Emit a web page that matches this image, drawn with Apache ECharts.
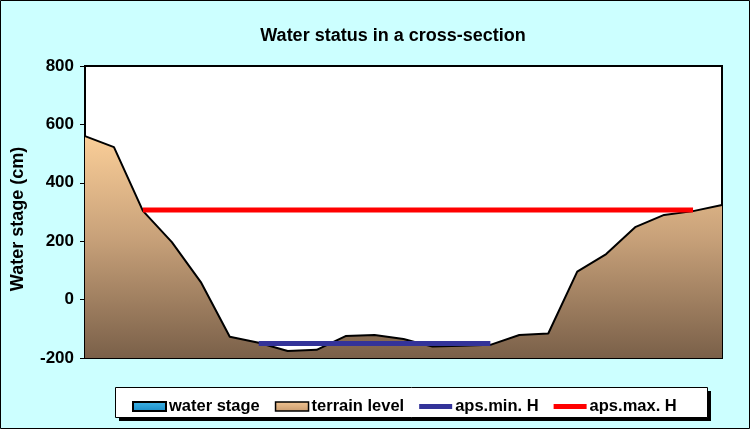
<!DOCTYPE html>
<html>
<head>
<meta charset="utf-8">
<script src="https://cdn.jsdelivr.net/npm/echarts@6/dist/echarts.min.js"></script>
<style>html,body{margin:0;padding:0;background:#CCFFFF;}#c{width:750px;height:429px;}</style>
</head>
<body>
<div id="c"></div>
<script>
var categories = ['1','2','3','4','5','6','7','8','9','10','11','12','13','14','15','16','17','18','19','20','21','22','23'];
var terrainLevel = [560, 522, 304, 197, 60, -127, -148, -176, -172, -125, -121, -135, -161, -158, -155, -121, -116, 96, 156, 248, 290, 303, 324];
var waterStage = [];
var apsMinH = [null, null, null, null, null, null, -150, -150, -150, -150, -150, -150, -150, -150, -150, null, null, null, null, null, null, null, null];
var apsMaxH = [null, null, 307, 307, 307, 307, 307, 307, 307, 307, 307, 307, 307, 307, 307, 307, 307, 307, 307, 307, 307, 307, null];
var yTicks = {min: -200, max: 800, interval: 200};
var yTitle = 'Water stage (cm)';

var font = 'Liberation Sans, Arial, sans-serif';
var lineIcon = 'path://M0,0h34v5h-34z';
var chart = echarts.init(document.getElementById('c'), null, {renderer: 'canvas'});
chart.setOption({
  backgroundColor: '#CCFFFF',
  animation: false,
  title: {
    text: 'Water status in a cross-section',
    left: 388, textAlign: 'center', top: 22,
    textStyle: {fontFamily: font, fontSize: 18, fontWeight: 'bold', color: '#000'}
  },
  graphic: [
    {type: 'rect', shape: {x: 0.5, y: 0.5, width: 749, height: 428}, style: {fill: 'none', stroke: '#000', lineWidth: 1}, z: 100},
    {type: 'rect', shape: {x: 119, y: 391, width: 592, height: 30}, style: {fill: '#000'}, z: 0},
    {type: 'rect', shape: {x: 115.5, y: 387.5, width: 592, height: 30}, style: {fill: '#fff', stroke: '#000', lineWidth: 1}, z: 1},
    {type: 'text', x: 18, y: 219, rotation: Math.PI / 2, z: 10,
      style: {text: yTitle, font: 'bold 18px ' + font, fill: '#000', textAlign: 'center', textVerticalAlign: 'middle'}}
  ],
  grid: {left: 85, right: 28, top: 66, bottom: 71, show: true, backgroundColor: '#fff', borderColor: '#000', borderWidth: 2},
  legend: {
    left: 127, top: 393, itemGap: 15, itemWidth: 33, itemHeight: 9, z: 5,
    textStyle: {fontFamily: font, fontSize: 16.5, fontWeight: 'bold', color: '#000', padding: [0,0,0,-2]},
    data: [
      {name: 'water stage', icon: 'rect', itemStyle: {color: {type:'linear',x:0,y:0,x2:0,y2:1,colorStops:[{offset:0,color:'#3FB5E8'},{offset:1,color:'#1A8AC4'}]}, borderColor: '#000', borderWidth: 2}},
      {name: 'terrain level', icon: 'rect', itemStyle: {color: {type:'linear',x:0,y:0,x2:0,y2:1,colorStops:[{offset:0,color:'#F2C593'},{offset:1,color:'#C99B6E'}]}, borderColor: '#000', borderWidth: 1.5}},
      {name: 'aps.min. H', icon: lineIcon, itemStyle: {color: '#333399'}},
      {name: 'aps.max. H', icon: lineIcon, itemStyle: {color: '#FF0000'}}
    ]
  },
  xAxis: {
    type: 'category', data: categories, boundaryGap: false,
    axisLine: {show: true, onZero: false, lineStyle: {color: '#000', width: 2}},
    axisTick: {show: false}, axisLabel: {show: false}, splitLine: {show: false}
  },
  yAxis: {
    type: 'value', min: yTicks.min, max: yTicks.max, interval: yTicks.interval,
    axisLine: {show: true, lineStyle: {color: '#000', width: 2}},
    axisTick: {show: true, length: 5, lineStyle: {color: '#000', width: 1}},
    axisLabel: {fontFamily: font, fontSize: 17, fontWeight: 'bold', color: '#000', margin: 11},
    splitLine: {show: false}
  },
  series: [
    {name: 'water stage', type: 'line', data: waterStage, symbol: 'none', itemStyle: {color: '#2AA0D8'}},
    {name: 'terrain level', type: 'line', data: terrainLevel, symbol: 'none',
      lineStyle: {color: '#000', width: 2},
      itemStyle: {color: '#E0B080'},
      areaStyle: {origin: 'start', opacity: 1, color: {type:'linear',x:0,y:0,x2:0,y2:1,colorStops:[{offset:0,color:'#FACE98'},{offset:0.45,color:'#C9A27A'},{offset:1,color:'#7A6049'}]}},
      z: 2},
    {name: 'aps.min. H', type: 'line', data: apsMinH, symbol: 'none',
      lineStyle: {color: '#333399', width: 5}, itemStyle: {color: '#333399'}, z: 3},
    {name: 'aps.max. H', type: 'line', data: apsMaxH, symbol: 'none',
      lineStyle: {color: '#FF0000', width: 5}, itemStyle: {color: '#FF0000'}, z: 3}
  ]
});
</script>
</body>
</html>
